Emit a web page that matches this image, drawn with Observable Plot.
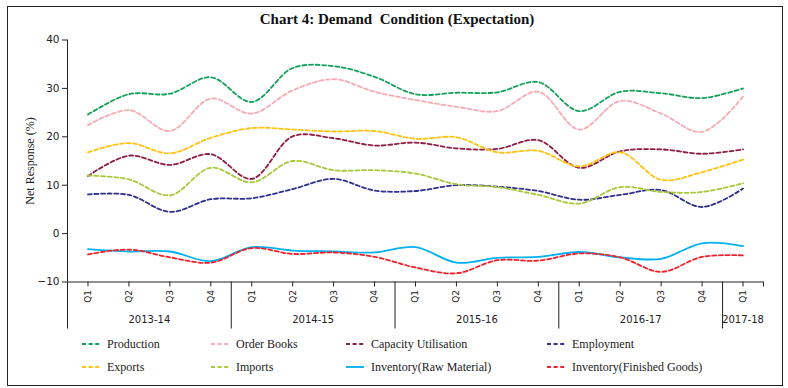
<!DOCTYPE html>
<html><head><meta charset="utf-8">
<script src="https://cdn.jsdelivr.net/npm/d3@7"></script>
<script src="https://cdn.jsdelivr.net/npm/@observablehq/plot@0.6"></script>
<style>
html,body{margin:0;padding:0;background:#fff;}
#wrap{position:relative;width:788px;height:388px;overflow:hidden;background:#fff;}
#frame{position:absolute;left:7px;top:6px;width:776px;height:380px;border:1px solid #222;box-sizing:border-box;}
#title{position:absolute;left:0;top:11px;width:794px;text-align:center;font:bold 15px "Liberation Serif",serif;color:#111;white-space:pre;}
#chart{position:absolute;left:0;top:34px;}
.leg{position:absolute;font:12px "Liberation Serif",serif;color:#222;white-space:nowrap;line-height:14px;}
.leg svg{position:absolute;top:2px;}
g[aria-label="y-axis label"] text{font-family:"Liberation Serif",serif;font-size:12px;}
</style>
</head><body>
<div id="wrap">
  <div id="frame"></div>
  <div id="title">Chart 4: Demand  Condition (Expectation)</div>
  <div id="chart"></div>
  <div id="legend"></div>
</div>
<script>
const quarters = ["Q1","Q2","Q3","Q4","Q1","Q2","Q3","Q4","Q1","Q2","Q3","Q4","Q1","Q2","Q3","Q4","Q1"];
const years = ["2013-14","2014-15","2015-16","2016-17","2017-18"];
const yearSpans = [4,4,4,4,1];
const yTicks = [-10,0,10,20,30,40];

const production  = [24.6, 28.8, 28.9, 32.3, 27.2, 34.2, 34.6, 32.4, 28.8, 29.1, 29.2, 31.3, 25.3, 29.3, 29.0, 28.0, 30.0];
const orderBooks  = [22.4, 25.5, 21.2, 27.9, 24.8, 29.6, 31.9, 29.3, 27.6, 26.2, 25.3, 29.3, 21.5, 27.4, 24.8, 21.0, 28.3];
const capacity    = [11.9, 16.1, 14.2, 16.4, 11.3, 20.1, 19.7, 18.2, 18.8, 17.6, 17.5, 19.3, 13.6, 17.0, 17.4, 16.5, 17.4];
const employment  = [8.1, 8.0, 4.5, 7.1, 7.3, 9.2, 11.3, 8.9, 8.8, 10.0, 9.7, 8.8, 7.0, 8.0, 9.0, 5.5, 9.3];
const exportsS    = [16.8, 18.7, 16.6, 19.8, 21.8, 21.5, 21.1, 21.2, 19.6, 19.9, 16.8, 17.1, 13.9, 16.8, 11.1, 12.7, 15.3];
const importsS    = [12.0, 11.2, 7.9, 13.6, 10.6, 15.0, 13.1, 13.1, 12.4, 10.2, 9.6, 8.0, 6.2, 9.6, 8.6, 8.6, 10.4];
const invRaw      = [-3.2, -3.7, -3.7, -5.7, -2.8, -3.5, -3.7, -3.9, -2.8, -6.0, -5.0, -4.8, -3.8, -4.9, -5.2, -2.0, -2.6];
const invFinished = [-4.3, -3.3, -4.9, -6.0, -3.0, -4.2, -3.9, -4.8, -7.0, -8.2, -5.5, -5.6, -4.1, -4.9, -7.9, -4.8, -4.5];

const seriesNames = ["Production","Order Books","Capacity Utilisation","Employment","Exports","Imports","Inventory(Raw Material)","Inventory(Finished Goods)"];
const seriesValues = [production, orderBooks, capacity, employment, exportsS, importsS, invRaw, invFinished];
const seriesColors = ["#12a15a","#f5aab4","#8f1d42","#2e2f8f","#ffc20e","#a8c83c","#00b0f0","#f0202a"];
const seriesDashed = [true,true,true,true,true,true,false,true];

const rows = [];
seriesNames.forEach((s, k) => seriesValues[k].forEach((v, i) => rows.push({series: s, pos: i + 0.5, value: v})));

const quarterPos = quarters.map((q, i) => i + 0.5);
const yearStarts = [];
const yearCenters = [];
let acc = 0;
yearSpans.forEach(n => { yearStarts.push(acc); yearCenters.push(acc + n / 2); acc += n; });

const lineMarks = seriesNames.map((s, k) => Plot.line(rows.filter(r => r.series === s), {
  x: "pos", y: "value", stroke: seriesColors[k], strokeWidth: 1.8,
  strokeDasharray: seriesDashed[k] ? "4,2.6" : null, curve: "catmull-rom"
}));

const plot = Plot.plot({
  width: 788, height: 301,
  marginLeft: 67, marginRight: 25, marginTop: 5.5, marginBottom: 53.5,
  x: {type: "linear", domain: [0, quarters.length]},
  y: {domain: [-10, 40]},
  style: {fontFamily: "DejaVu Sans, sans-serif", fontSize: "10px", color: "#222", background: "transparent", overflow: "visible"},
  marks: [
    Plot.axisY({ticks: yTicks, tickSize: 5, tickPadding: 3, fontSize: 10.5, label: "Net Response (%)", labelAnchor: "center", labelOffset: 42, labelArrow: "none"}),
    Plot.axisX({ticks: quarterPos, tickSize: 5, tickPadding: 3, tickRotate: -90, fontSize: 9, tickFormat: d => quarters[Math.floor(d)], label: null}),
    Plot.axisX({ticks: [quarters.length], tickSize: 5, tickFormat: () => "", label: null}),
    Plot.axisX({ticks: yearStarts, tickSize: 47, tickFormat: () => "", label: null}),
    Plot.axisX({ticks: yearCenters, tickSize: 0, tickPadding: 34, fontSize: 10, tickFormat: d => years[yearCenters.indexOf(d)], label: null}),
    Plot.ruleY([-10], {stroke: "#222"}),
    Plot.ruleX([0], {stroke: "#222"}),
    ...lineMarks
  ]
});
document.getElementById("chart").appendChild(plot);

// legend
const legCols = [107, 236, 371, 572];
const legRows = [337, 360];
const legend = document.getElementById("legend");
seriesNames.forEach((s, k) => {
  const col = k % 4, row = Math.floor(k / 4);
  const div = document.createElement("div");
  div.className = "leg";
  div.style.left = (legCols[col] - 26) + "px";
  div.style.top = legRows[row] + "px";
  div.style.paddingLeft = "26px";
  const sw = d3.create("svg").attr("width", 20).attr("height", 10).style("left", "0px");
  sw.append("line").attr("x1", 1).attr("x2", 19).attr("y1", 5).attr("y2", 5)
    .attr("stroke", seriesColors[k]).attr("stroke-width", 1.8)
    .attr("stroke-dasharray", seriesDashed[k] ? "4,2.6" : null);
  div.appendChild(sw.node());
  div.appendChild(document.createTextNode(s));
  legend.appendChild(div);
});
</script>
</body></html>
